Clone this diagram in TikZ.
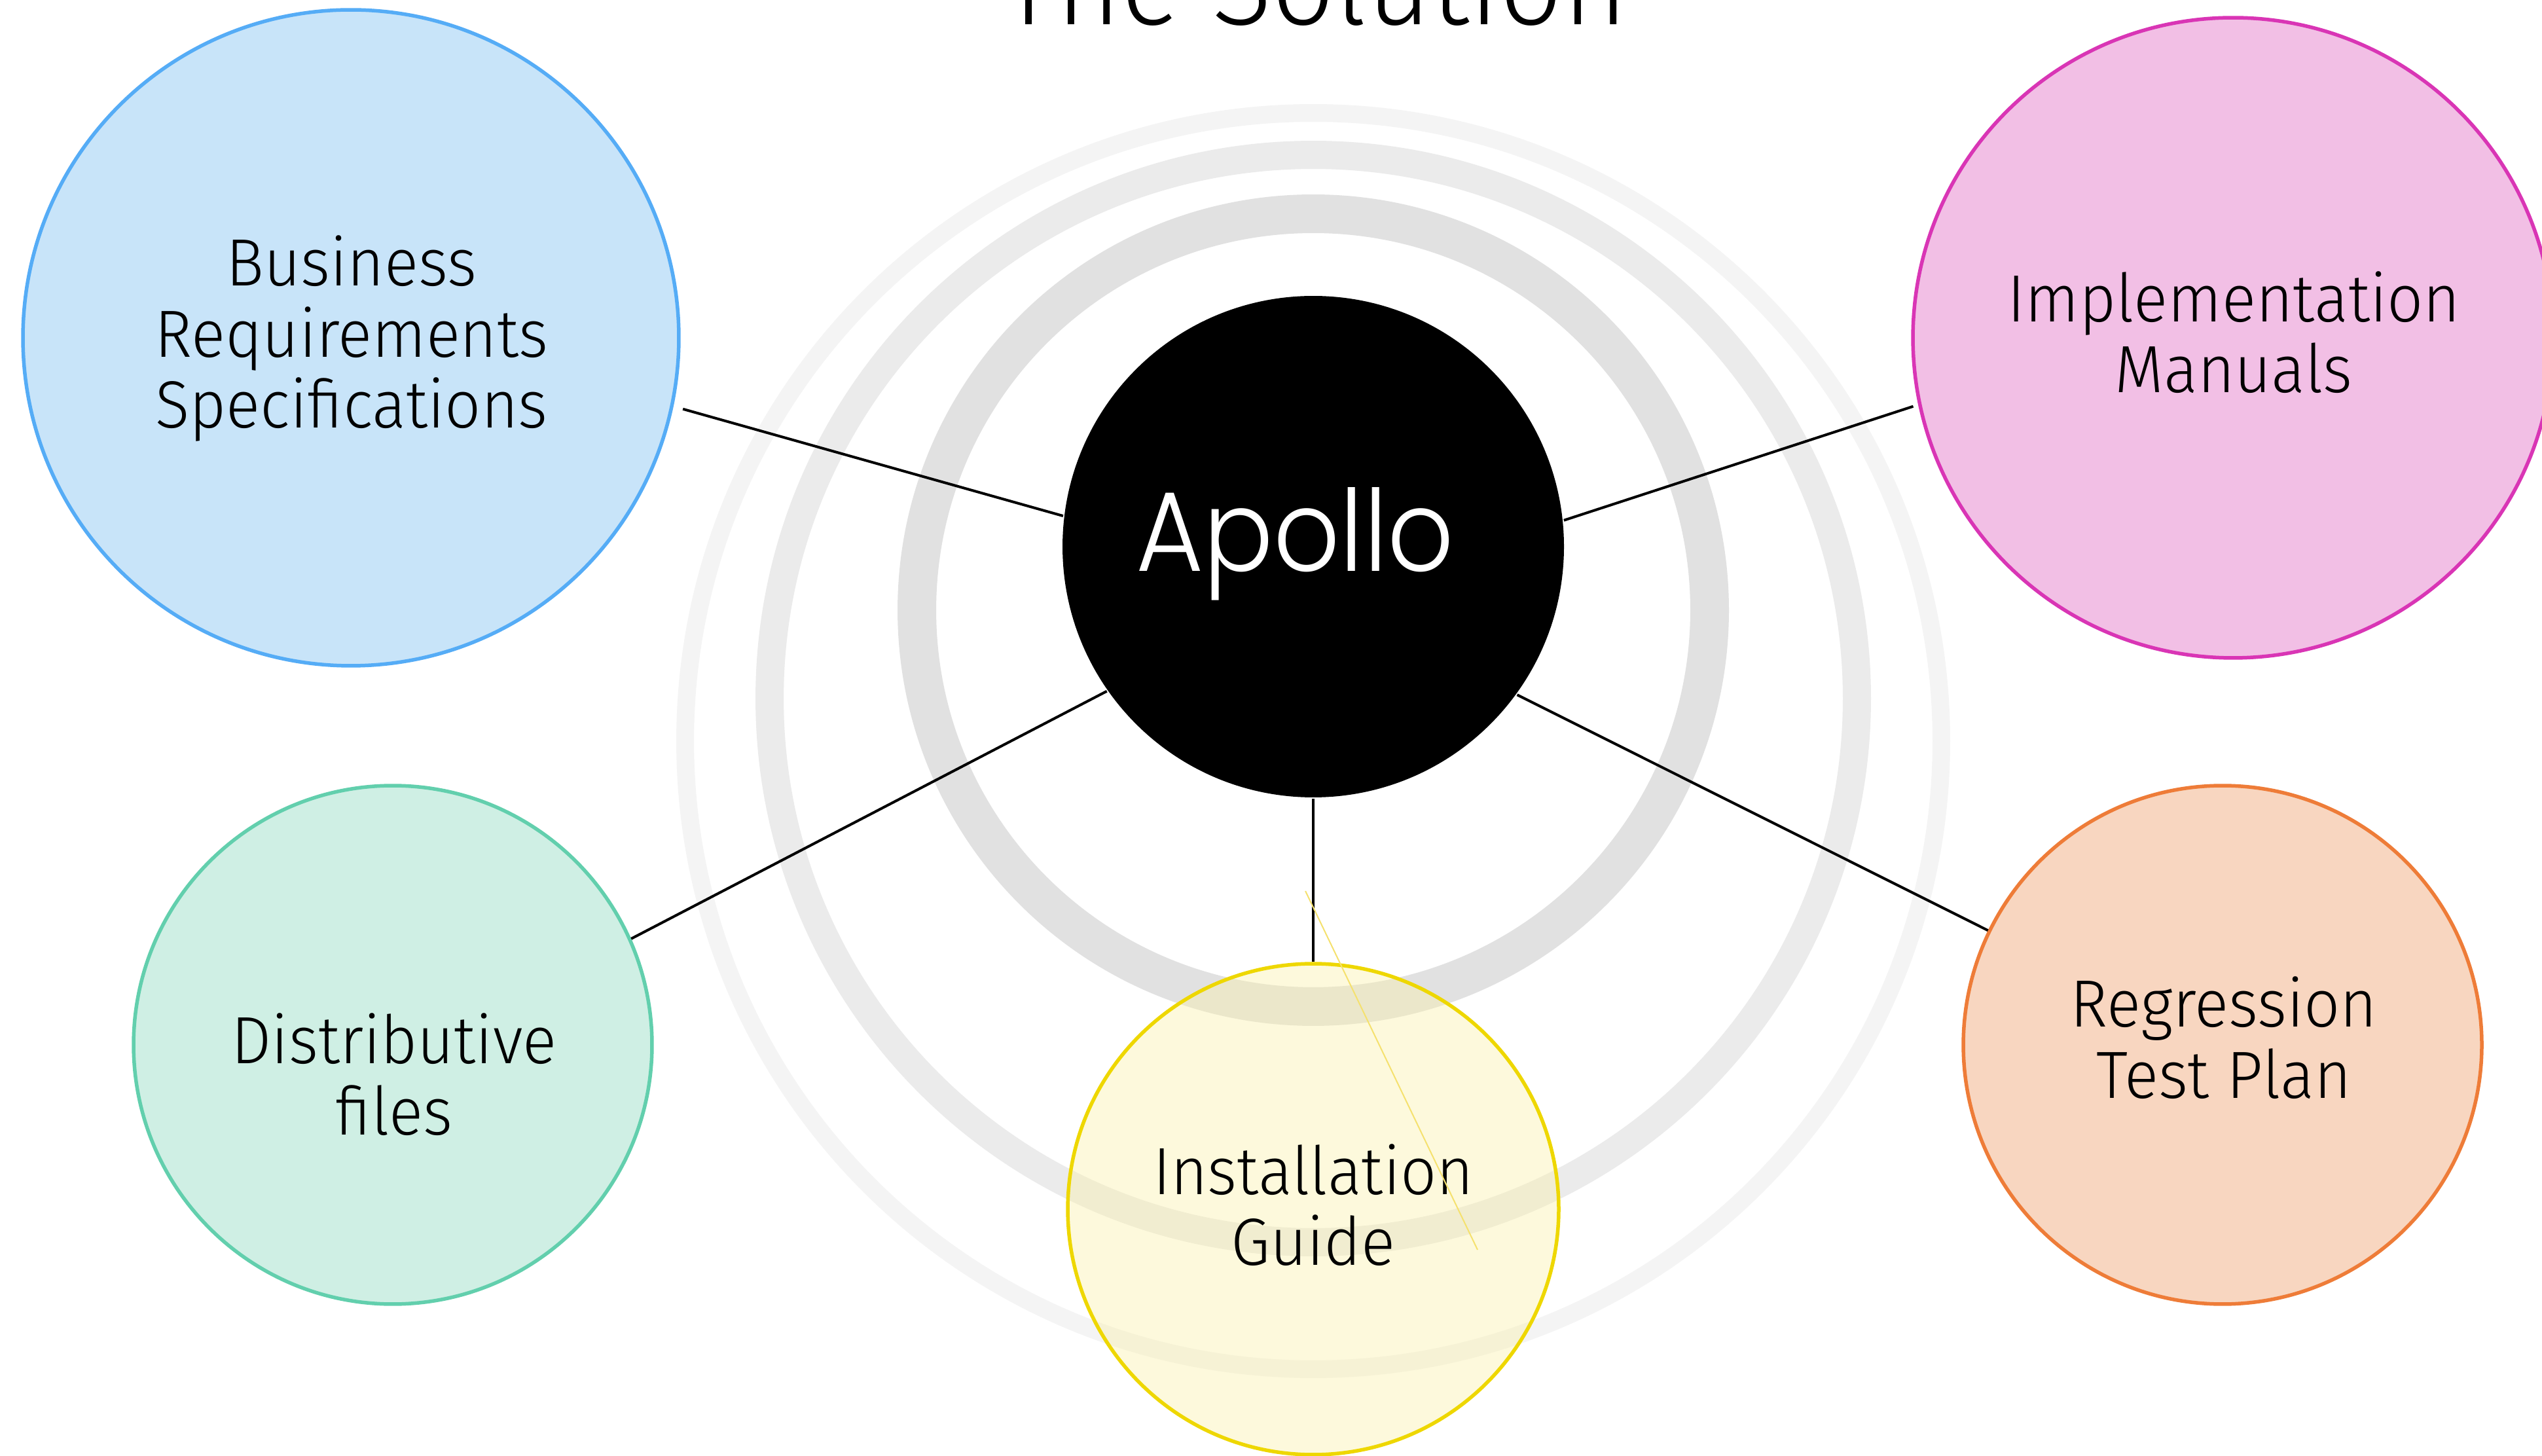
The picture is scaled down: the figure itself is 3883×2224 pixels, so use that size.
\documentclass[tikz,border=0pt]{standalone}
\usepackage{fontspec}
\IfFontExistsTF{Fira Sans Light}{\setmainfont{Fira Sans Light}[FakeStretch=0.95]}{\setmainfont{Fira Sans}[FakeStretch=0.95]}
\IfFontExistsTF{Poppins Light}{\newfontfamily\apollofam{Poppins Light}[FakeStretch=0.915]}{\newfontfamily\apollofam{Poppins}[FakeStretch=0.915]}
\newcommand\bodyfnt{\fontsize{10.2pt}{10.8pt}\selectfont}
\newcommand\titlefnt{\fontsize{17.9pt}{17.9pt}\selectfont}
\newcommand\apollofnt{\apollofam\fontsize{17.3pt}{17.3pt}\selectfont}
\definecolor{ringA}{HTML}{E1E1E1}
\definecolor{ringB}{HTML}{EBEBEB}
\definecolor{ringC}{HTML}{F4F4F4}
\definecolor{bluefl}{HTML}{C8E4F9}
\definecolor{bluebd}{HTML}{55ACF6}
\definecolor{pinkfl}{HTML}{F2BFE5}
\definecolor{pinkbd}{HTML}{D935B5}
\definecolor{greenfl}{HTML}{CFEFE4}
\definecolor{greenbd}{HTML}{62CFAD}
\definecolor{orangefl}{HTML}{F8D6C0}
\definecolor{orangebd}{HTML}{EE7C38}
\definecolor{yelfl}{RGB}{250,240,168}
\definecolor{yelbd}{HTML}{EED700}
\definecolor{strayc}{RGB}{245,225,110}
\tikzset{
  doc/.style={circle, draw, line width=0.55pt, inner sep=0pt},
  lbl/.style={anchor=base, inner sep=0pt, font=\bodyfnt},
  conn/.style={draw=black, line width=0.4pt},
}
\begin{document}
\begin{tikzpicture}[x=0.1pt,y=-0.1pt]
\useasboundingbox (0,0) rectangle (3883,2224);
\fill[white] (0,0) rectangle (3883,2224);
% concentric rings
\coordinate (r1c) at (2006,932);
\coordinate (r2c) at (2006,1067);
\coordinate (r3c) at (2006,1132);
\draw[draw=ringC, line width=2.7pt] (r3c) circle[radius=95.95pt];
\draw[draw=ringB, line width=4.3pt] (r2c) circle[radius=83.05pt];
\draw[draw=ringA, line width=5.9pt] (r1c) circle[radius=60.55pt];
% title
\node[anchor=base, inner sep=0pt, font=\titlefnt] (title) at (2008,38) {The Solution};
% circles
\node[doc, draw=bluebd, fill=bluefl, minimum size=100.2pt] (brs) at (536,516) {};
\node[doc, draw=pinkbd, fill=pinkfl, minimum size=97.8pt] (im) at (3411,516) {};
\node[doc, draw=greenbd, fill=greenfl, minimum size=79.2pt] (df) at (600,1596) {};
\node[doc, draw=orangebd, fill=orangefl, minimum size=79.2pt] (rtp) at (3395,1596) {};
\node[circle, fill=black, inner sep=0pt, minimum size=76.6pt] (apollo) at (2006,835) {};
\node[doc, draw=yelbd, fill=yelfl, fill opacity=0.4, minimum size=75pt] (ig) at (2006,1847) {};
% connectors
\draw[conn, shorten <=1.5pt] (brs.-12.5) -- (apollo.173.6);
\draw[conn, shorten >=0.8pt] (apollo.6.4) -- (im.192.9);
\draw[conn] (apollo.215.4) -- (df.24.6);
\draw[conn] (apollo.-36.2) -- (rtp.154.7);
\draw[conn] (apollo.south) -- (ig.north);
% labels
\node[lbl] (brs1) at (537,437) {Business};
\node[lbl] (brs2) at (537,546) {Requirements};
\node[lbl] (brs3) at (537,654) {Specifications};
\node[lbl] (im1) at (3412,492) {Implementation};
\node[lbl] (im2) at (3412,600) {Manuals};
\node[lbl] (df1) at (602,1624) {Distributive};
\node[lbl] (df2) at (602,1733) {files};
\node[lbl] (rtp1) at (3397,1569) {Regression};
\node[lbl] (rtp2) at (3397,1678) {Test Plan};
\node[lbl] (ig1) at (2006,1824) {Installation};
\node[lbl] (ig2) at (2006,1932) {Guide};
\node[anchor=base, inner sep=0pt, font=\apollofnt, text=white] (apollotxt) at (1978,873) {Apollo};
% thin yellow stroke
\coordinate (s1) at (1994,1361);
\coordinate (s2) at (2257,1909);
\draw[draw=strayc, line width=0.2pt] (s1) -- (s2);
\end{tikzpicture}
\end{document}
